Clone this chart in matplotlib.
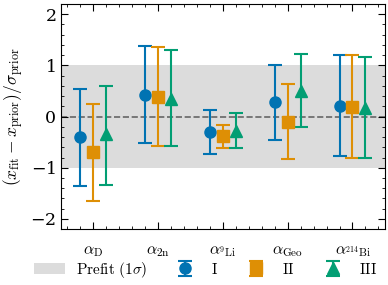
import numpy as np
import matplotlib
matplotlib.use("Agg")
import matplotlib.pyplot as plt
from matplotlib.patches import Patch
from matplotlib.ticker import MultipleLocator

# Parameter pulls
params = [r"$\alpha_\mathrm{D}$", r"$\alpha_\mathrm{2n}$", r"$\alpha_{^9\mathrm{Li}}$",
          r"$\alpha_\mathrm{Geo}$", r"$\alpha_{^{214}\mathrm{Bi}}$"]
labels = [r"$\mathrm{I}$", r"$\mathrm{II}$", r"$\mathrm{III}$"]

pull_I = [-0.40, 0.42, -0.31, 0.28, 0.21]
hi_I = [0.54, 1.37, 0.12, 1.01, 1.20]
lo_I = [-1.35, -0.51, -0.73, -0.45, -0.77]

pull_II = [-0.70, 0.39, -0.38, -0.10, 0.19]
hi_II = [0.25, 1.35, -0.16, 0.63, 1.20]
lo_II = [-1.65, -0.58, -0.61, -0.83, -0.80]

pull_III = [-0.35, 0.35, -0.29, 0.49, 0.17]
hi_III = [0.60, 1.30, 0.07, 1.23, 1.17]
lo_III = [-1.33, -0.58, -0.61, -0.21, -0.80]

plt.rcParams["mathtext.fontset"] = "cm"
plt.rcParams["font.family"] = "serif"
plt.rcParams["font.serif"] = ["DejaVu Serif"]
plt.rcParams["axes.formatter.use_mathtext"] = True
plt.rcParams["font.size"] = 11

colors = ["#0173B2", "#DE8F05", "#029E73"]
markers = ["o", "s", "^"]
offsets = [-0.2, 0.0, 0.2]

fig = plt.figure(figsize=(3.88, 2.85), dpi=100)
ax = fig.add_axes([0.157, 0.196, 0.835, 0.790])

x = np.arange(len(params))
ax.axhspan(-1, 1, color="#dcdcdc", lw=0, zorder=0)
ax.axhline(0, color="#666666", ls="--", lw=1.2, zorder=1)

handles = []
series = [(pull_I, hi_I, lo_I), (pull_II, hi_II, lo_II), (pull_III, hi_III, lo_III)]
for (p, hi, lo), c, m, off in zip(series, colors, markers, offsets):
    p = np.array(p)
    yerr = [p - np.array(lo), np.array(hi) - p]
    h = ax.errorbar(x + off, p, yerr=yerr, fmt=m, color=c, ms=8, elinewidth=1.5,
                    capsize=5, capthick=1.5, zorder=3)
    handles.append(h)

ax.set_xlim(-0.5, 4.5)
ax.set_ylim(-2.2, 2.2)
ax.set_xticks(x)
ax.set_xticklabels(params)
ax.xaxis.set_minor_locator(MultipleLocator(0.2))
ax.yaxis.set_major_locator(MultipleLocator(1))
ax.yaxis.set_minor_locator(MultipleLocator(0.2))
ax.tick_params(which="both", direction="in", top=True, right=True)
ax.tick_params(which="major", length=5)
ax.tick_params(which="minor", length=2.5)
ax.tick_params(axis="x", which="major", pad=9, labelsize=11.5)
ax.tick_params(axis="y", which="major", labelsize=12.5)
ax.set_ylabel(r"$(x_\mathrm{fit} - x_\mathrm{prior})/\sigma_\mathrm{prior}$", fontsize=12.5, labelpad=3)

prefit = Patch(facecolor="#dcdcdc", edgecolor="none")
fig.legend([prefit] + handles, [r"$\mathrm{Prefit}\ (1\sigma)$"] + labels,
           loc="lower center", bbox_to_anchor=(0.53, -0.03), ncol=4, frameon=False,
           handlelength=2.0, handletextpad=0.7, columnspacing=1.5, fontsize=11)

fig.savefig("out.png", dpi=100)
